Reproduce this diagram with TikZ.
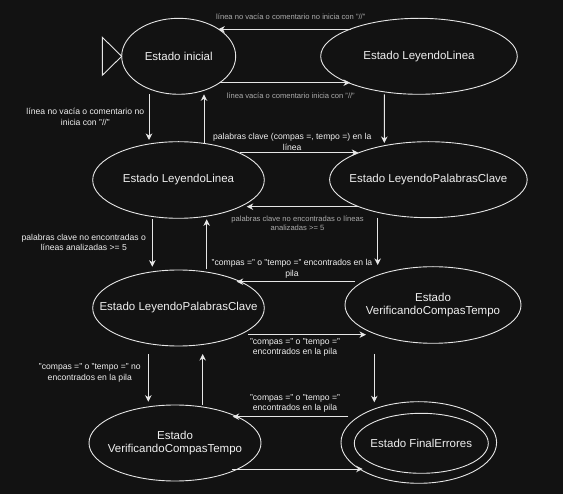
\documentclass[tikz,border=0pt]{standalone}
\usepackage{fontspec}
\setmainfont{Liberation Sans}
\usetikzlibrary{calc,arrows.meta,shapes.geometric}
\definecolor{bg}{HTML}{121212}
\definecolor{ln}{HTML}{E6E6E6}
\definecolor{tw}{HTML}{F0F0F0}
\definecolor{tg}{HTML}{ABABAB}
\tikzset{
  st/.style={ellipse, draw=ln, line width=0.9pt, inner sep=0pt},
  stt/.style={text=tw, font=\fontsize{11.5}{13.5}\selectfont, align=center, inner sep=0pt},
  lw/.style={text=tw, font=\fontsize{8.6}{10.5}\selectfont, align=center, inner sep=0pt},
  lg/.style={text=tg, font=\fontsize{7.6}{8.8}\selectfont, align=center, inner sep=0pt},
  arr/.style={draw=ln, line width=0.9pt, -{Stealth[length=6.5pt,width=6.5pt,inset=2pt]}},
}
\begin{document}
\begin{tikzpicture}[x=1pt,y=-1pt]
\fill[bg] (0,0) rectangle (563,494);
\useasboundingbox (0,0) rectangle (563,494);

% states
\node[st, minimum width=114pt, minimum height=76pt, label={[stt]center:Estado inicial}] (ini) at (178.7,56.3) {};
\node[st, minimum width=196.6pt, minimum height=76pt, label={[stt]center:Estado LeyendoLinea}] (ll1) at (419,56.3) {};
\node[st, minimum width=171.6pt, minimum height=76.6pt, label={[stt]center:Estado LeyendoLinea}] (ll2) at (178.5,180) {};
\node[st, minimum width=197.6pt, minimum height=76pt, label={[stt]center:Estado LeyendoPalabrasClave}] (lpc1) at (428.4,179.7) {};
\node[st, minimum width=171.6pt, minimum height=76pt, label={[stt]center:Estado LeyendoPalabrasClave}] (lpc2) at (178.5,308) {};
\node[st, minimum width=176pt, minimum height=76.6pt, label={[stt]center:Estado\\VerificandoCompasTempo}] (vct1) at (433,305) {};
\node[st, minimum width=172pt, minimum height=76pt, label={[stt]center:Estado\\VerificandoCompasTempo}] (vct2) at (175,443) {};
\node[st, minimum width=155.6pt, minimum height=81.6pt] (fin) at (418.8,442.5) {};
\node[st, minimum width=134pt, minimum height=60pt, label={[stt]center:Estado FinalErrores}] (finin) at (421.3,443.3) {};

% initial marker
\draw[draw=ln, line width=0.9pt] ($(ini.center)+(-76.4,-19)$) -- ($(ini.center)+(-76.4,19)$) -- ($(ini.center)+(-57,0)$) -- cycle;

% connectors
\draw[arr] ($(ll1.center)+(-68,-27)$) -- ($(ini.center)+(39.6,-27)$);
\draw[arr] ($(ini.center)+(41.3,26.4)$) -- ($(ll1.center)+(-69,26.4)$);
\draw[arr] ($(ini.center)+(-29.7,38)$) -- ($(ll2.center)+(-29.5,-40)$);
\draw[arr] ($(ll2.center)+(25.5,-36)$) -- ($(ini.center)+(25.3,38)$);
\draw[arr] ($(ll1.center)+(-34.7,38)$) -- ($(lpc1.center)+(-44.1,-36.7)$);
\draw[arr] ($(ll2.center)+(61.5,-27.3)$) -- ($(lpc1.center)+(-70.1,-27)$);
\draw[arr] ($(lpc1.center)+(-69.4,27)$) -- ($(ll2.center)+(68.2,26.7)$);
\draw[arr] ($(ll2.center)+(-26.2,39.3)$) -- ($(lpc2.center)+(-26.2,-41.3)$);
\draw[arr] ($(lpc2.center)+(28.2,-38.7)$) -- ($(ll2.center)+(28.2,39.3)$);
\draw[arr] ($(lpc1.center)+(-50.7,38)$) -- ($(vct1.center)+(-55.3,-40)$);
\draw[arr] ($(vct1.center)+(-78,-23.3)$) -- ($(lpc2.center)+(58.2,-26.3)$);
\draw[arr] ($(lpc2.center)+(69.8,26.7)$) -- ($(vct1.center)+(-67,29.7)$);
\draw[arr] ($(lpc2.center)+(-30.2,46)$) -- ($(vct2.center)+(-26.7,-41.3)$);
\draw[arr] ($(vct2.center)+(27.7,-38)$) -- ($(lpc2.center)+(24.2,46)$);
\draw[arr] ($(vct1.center)+(-58.7,49)$) -- ($(fin.center)+(-44.5,-40.2)$);
\draw[arr] ($(fin.center)+(-70.5,-25.8)$) -- ($(vct2.center)+(57.7,-26.3)$);
\draw[arr] ($(vct2.center)+(56.7,26)$) -- ($(fin.center)+(-56.1,26.5)$);

% labels
\node[lg] (t1) at (290.8,17) {línea no vacía o comentario no inicia con "//"};
\node[lg] (t2) at (290.8,95.3) {línea vacía o comentario inicia con "//"};
\node[lw] (t3) at (85.3,116.7) {línea no vacía o comentario no\\inicia con "//"};
\node[lw] (t4) at (292.2,141.7) {palabras clave (compas =, tempo =) en la\\línea};
\node[lg] (t5) at (297.5,223.3) {palabras clave no encontradas o líneas\\analizadas >= 5};
\node[lw] (t6) at (83.8,242.2) {palabras clave no encontradas o\\líneas analizadas >= 5};
\node[lw] (t7) at (292,268.8) {"compas =" o "tempo =" encontrados en la\\pila};
\node[lw] (t8) at (295,347.5) {"compas =" o "tempo ="\\encontrados en la pila};
\node[lw] (t9) at (89.8,373) {"compas =" o "tempo =" no\\encontrados en la pila};
\node[lw] (t10) at (295,403.3) {"compas =" o "tempo ="\\encontrados en la pila};
\end{tikzpicture}
\end{document}
